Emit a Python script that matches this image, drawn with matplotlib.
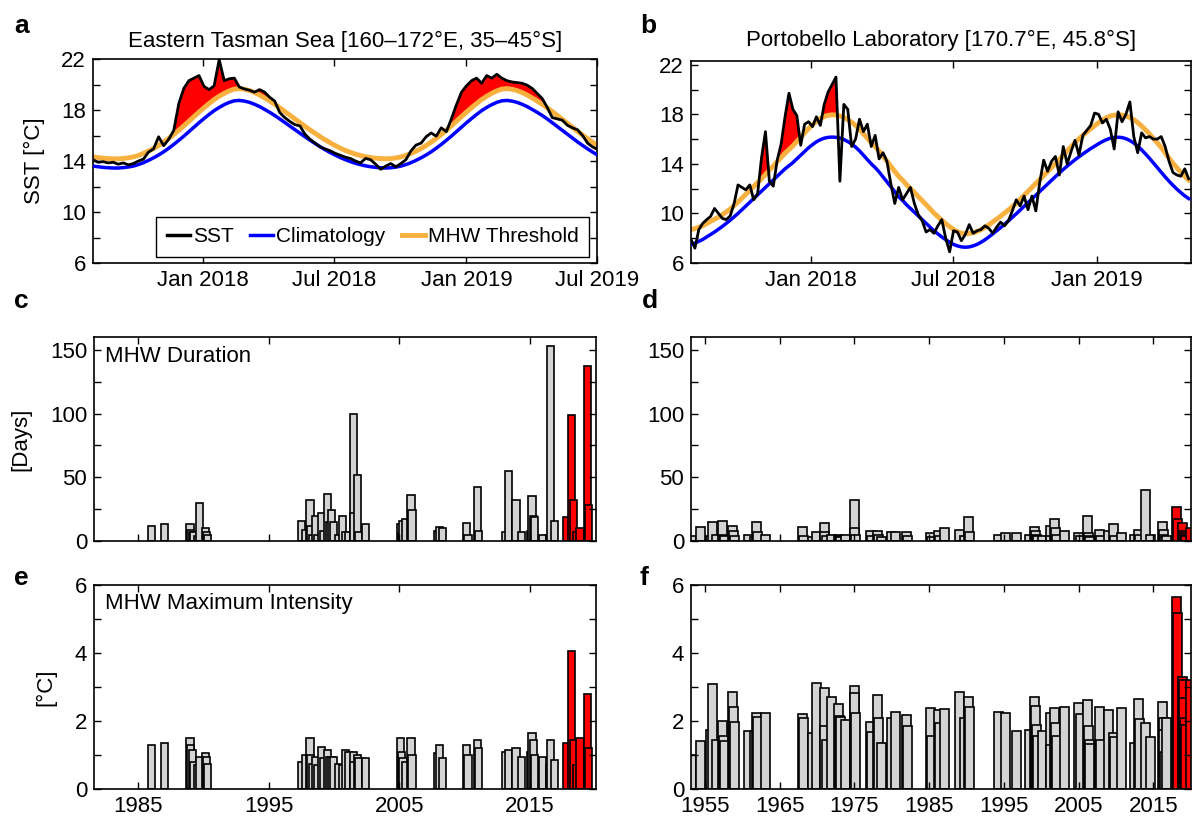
import numpy as np
import pandas as pd
import matplotlib
matplotlib.use("Agg")
import matplotlib.pyplot as plt
from matplotlib.lines import Line2D

plt.rcParams["font.family"] = ["Liberation Sans", "DejaVu Sans"]
plt.rcParams["axes.linewidth"] = 1.2

# a: Eastern Tasman Sea, weekly values from 1 Aug 2017 (degC)
sst_a = [14.1, 13.9, 13.95, 13.85, 13.9, 13.75, 13.85, 13.7, 13.8, 14.0,
         14.15, 14.7, 14.95, 15.9, 15.2, 15.7, 16.4, 18.5, 19.7, 20.3,
         20.5, 20.7, 19.85, 19.6, 19.9, 21.95, 20.3, 20.45, 20.5, 19.8,
         19.65, 19.55, 19.4, 19.6, 19.4, 19.0, 18.7, 17.8, 17.4, 17.1,
         16.85, 16.75, 16.1, 15.7, 15.4, 15.1, 14.95, 14.8, 14.6, 14.45,
         14.3, 14.2, 14.0, 13.85, 14.2, 14.1, 13.75, 13.35, 13.6, 13.8,
         13.55, 13.8, 14.1, 14.8, 15.25, 15.4, 15.9, 16.2, 15.95, 16.6,
         16.3, 17.3, 18.4, 19.4, 19.9, 20.3, 20.5, 20.1, 20.7, 20.5,
         20.8, 20.5, 20.3, 20.2, 20.15, 20.1, 19.95, 19.7, 19.3, 18.9,
         18.2, 17.4, 17.3, 17.2, 16.8, 16.6, 16.45, 16.0, 15.4, 15.1,
         14.9]
clim_a = [13.6, 13.55, 13.5, 13.47, 13.45, 13.45, 13.48, 13.53, 13.6, 13.72,
          13.87, 14.05, 14.25, 14.47, 14.72, 15.0, 15.3, 15.62, 15.95, 16.3,
          16.65, 17.0, 17.33, 17.65, 17.95, 18.2, 18.42, 18.6, 18.72, 18.75,
          18.7, 18.6, 18.45, 18.27, 18.05, 17.82, 17.57, 17.3, 17.02, 16.74,
          16.46, 16.18, 15.9, 15.63, 15.37, 15.12, 14.88, 14.66, 14.46, 14.27,
          14.1, 13.95, 13.82, 13.71, 13.62, 13.55, 13.5, 13.47, 13.45, 13.47,
          13.52, 13.6, 13.72, 13.87, 14.05, 14.25, 14.47, 14.72, 15.0, 15.3,
          15.62, 15.95, 16.3, 16.65, 17.0, 17.33, 17.65, 17.95, 18.2, 18.42,
          18.6, 18.72, 18.75, 18.7, 18.6, 18.45, 18.27, 18.05, 17.82, 17.57,
          17.3, 17.0, 16.7, 16.4, 16.1, 15.8, 15.5, 15.22, 14.95, 14.7,
          14.45]
thresh_a = [14.32, 14.27, 14.22, 14.19, 14.17, 14.17, 14.2, 14.25, 14.32, 14.44,
            14.6, 14.78, 14.98, 15.22, 15.48, 15.77, 16.08, 16.41, 16.76, 17.12,
            17.48, 17.84, 18.18, 18.51, 18.82, 19.08, 19.31, 19.5, 19.64, 19.68,
            19.63, 19.53, 19.37, 19.18, 18.95, 18.71, 18.45, 18.17, 17.88, 17.59,
            17.3, 17.01, 16.72, 16.44, 16.17, 15.91, 15.66, 15.43, 15.21, 15.01,
            14.83, 14.68, 14.54, 14.43, 14.34, 14.27, 14.22, 14.19, 14.17, 14.19,
            14.24, 14.32, 14.44, 14.6, 14.78, 14.98, 15.22, 15.48, 15.77, 16.08,
            16.41, 16.76, 17.12, 17.48, 17.84, 18.18, 18.51, 18.82, 19.08, 19.31,
            19.5, 19.64, 19.68, 19.63, 19.53, 19.37, 19.18, 18.95, 18.71, 18.45,
            18.17, 17.87, 17.57, 17.26, 16.95, 16.64, 16.33, 16.03, 15.74, 15.47,
            15.2]
mhw_a = [("2017-11-14", "2018-04-12"), ("2018-12-04", "2019-05-01")]

# b: Portobello Laboratory, 5-daily values from 1 Aug 2017 (degC)
sst_b = [7.9, 7.2, 8.7, 9.2, 9.5, 9.76, 10.4, 10.0, 9.6, 9.5,
         9.8, 10.8, 12.3, 12.1, 11.9, 12.3, 11.1, 11.6, 14.5, 16.6,
         12.6, 12.2, 14.3, 15.6, 17.8, 19.7, 18.4, 17.9, 15.5, 17.2,
         17.4, 17.0, 17.8, 17.1, 18.8, 19.8, 20.4, 21.0, 12.6, 18.8,
         18.4, 15.4, 16.0, 17.6, 16.6, 17.2, 15.4, 16.3, 14.4, 14.9,
         14.2, 12.4, 10.8, 12.1, 11.1, 11.6, 12.1, 10.8, 9.9, 9.4,
         8.5, 8.7, 8.4, 9.0, 9.5, 8.0, 6.9, 8.6, 8.5, 7.8,
         8.3, 9.1, 8.4, 8.6, 8.7, 9.0, 8.8, 8.4, 8.9, 9.3,
         9.0, 9.4, 10.2, 11.1, 10.6, 11.4, 10.3, 11.4, 10.2, 12.5,
         14.3, 13.4, 14.2, 14.6, 13.1, 15.4, 14.0, 15.0, 15.9, 14.7,
         16.3, 16.7, 17.1, 18.1, 18.0, 17.3, 17.6, 16.8, 15.2, 18.2,
         17.4, 18.0, 19.0, 16.2, 14.9, 16.5, 16.1, 16.2, 16.0, 16.0,
         16.2, 15.4, 14.2, 13.3, 13.1, 13.0, 13.6, 12.8]
clim_b = [7.5, 7.6, 7.75, 7.9, 8.1, 8.3, 8.5, 8.72, 8.95, 9.2,
          9.45, 9.72, 10.0, 10.3, 10.6, 10.9, 11.2, 11.5, 11.8, 12.1,
          12.4, 12.7, 13.0, 13.3, 13.6, 13.85, 14.1, 14.4, 14.7, 15.0,
          15.3, 15.55, 15.78, 15.95, 16.07, 16.14, 16.16, 16.14, 16.08, 15.97,
          15.8, 15.6, 15.35, 15.05, 14.7, 14.35, 14.0, 13.7, 13.35, 12.95,
          12.55, 12.15, 11.75, 11.35, 11.05, 10.7, 10.4, 10.1, 9.8, 9.5,
          9.2, 8.9, 8.6, 8.35, 8.1, 7.88, 7.68, 7.5, 7.38, 7.3,
          7.27, 7.3, 7.38, 7.5, 7.67, 7.87, 8.1, 8.35, 8.6, 8.85,
          9.12, 9.4, 9.68, 9.97, 10.27, 10.57, 10.87, 11.17, 11.47, 11.77,
          12.07, 12.37, 12.67, 12.97, 13.27, 13.55, 13.82, 14.08, 14.33, 14.57,
          14.8, 15.02, 15.23, 15.43, 15.62, 15.8, 15.95, 16.07, 16.13, 16.15,
          16.12, 16.03, 15.88, 15.68, 15.43, 15.13, 14.8, 14.45, 14.08, 13.7,
          13.32, 12.95, 12.6, 12.27, 11.96, 11.68, 11.42, 11.2]
thresh_b = [8.7, 8.77, 8.89, 9.01, 9.18, 9.35, 9.52, 9.7, 9.9, 10.12,
            10.35, 10.63, 10.92, 11.24, 11.55, 11.86, 12.17, 12.49, 12.8, 13.14,
            13.48, 13.82, 14.17, 14.52, 14.86, 15.15, 15.45, 15.8, 16.15, 16.5,
            16.85, 17.15, 17.43, 17.65, 17.82, 17.92, 17.96, 17.94, 17.87, 17.75,
            17.57, 17.36, 17.1, 16.79, 16.43, 16.07, 15.71, 15.4, 15.04, 14.63,
            14.22, 13.81, 13.4, 12.99, 12.68, 12.32, 12.01, 11.7, 11.37, 11.04,
            10.71, 10.37, 10.03, 9.74, 9.45, 9.18, 8.93, 8.7, 8.53, 8.4,
            8.37, 8.38, 8.44, 8.54, 8.69, 8.87, 9.08, 9.31, 9.54, 9.77,
            10.02, 10.28, 10.54, 10.82, 11.14, 11.46, 11.78, 12.1, 12.42, 12.74,
            13.06, 13.38, 13.7, 14.02, 14.34, 14.7, 15.05, 15.38, 15.7, 16.01,
            16.3, 16.57, 16.83, 17.08, 17.32, 17.54, 17.72, 17.86, 17.93, 17.95,
            17.94, 17.87, 17.74, 17.56, 17.33, 17.05, 16.74, 16.41, 16.06, 15.7,
            15.32, 14.88, 14.46, 14.06, 13.68, 13.33, 13.0, 12.7]
mhw_b = [("2017-10-25", "2017-11-09"), ("2017-11-24", "2017-12-20"),
         ("2018-01-07", "2018-02-07")]

# c/e: Tasman Sea MHW events (start year, duration [days], max intensity [degC])
tas_start = [1985.75, 1986.75, 1988.69, 1988.75, 1988.88, 1989.0, 1989.25, 1989.44, 1989.9, 1989.97, 1990.06,
             1997.25, 1997.56, 1997.88, 1997.94, 1998.1, 1998.34, 1998.5, 1998.75, 1998.97, 1999.22, 1999.38,
             1999.53, 1999.69, 2000.06, 2000.38, 2000.63, 2000.84, 2001.22, 2001.25, 2001.53, 2001.63, 2002.16,
             2004.84, 2004.9, 2005.0, 2005.22, 2005.63, 2005.69,
             2007.63, 2007.81, 2008.03,
             2009.9, 2010.0, 2010.69, 2010.78,
             2012.88, 2013.09, 2013.66, 2014.06, 2014.75, 2014.9, 2015.0, 2015.06, 2015.69, 2016.25, 2016.31, 2016.63,
             2017.56, 2017.94, 2018.09, 2018.34, 2018.56, 2019.13, 2019.19]
tas_dur = [12, 13, 13, 9, 7, 7, 4, 30, 10, 7, 5,
           16, 9, 32, 12, 5, 20, 5, 22, 8, 37, 15, 24, 15, 5, 20, 7, 7, 100, 22, 52, 7, 13,
           13, 6, 16, 17, 36, 24,
           8, 11, 10,
           14, 5, 42, 8,
           7, 55, 32, 7, 8, 35, 20, 19, 5, 5, 153, 16,
           19, 99, 32, 7, 10, 137, 28]
tas_imax = [1.3, 1.35, 1.5, 1.3, 1.15, 0.8, 0.7, 0.95, 1.05, 0.95, 0.75,
            0.8, 1.0, 1.5, 1.0, 0.75, 0.95, 0.7, 1.25, 0.9, 1.15, 0.95, 0.95, 0.95, 0.75, 0.7, 1.15, 1.1, 1.1,
            0.8, 1.0, 0.9, 0.9,
            1.5, 1.1, 0.9, 0.8, 1.5, 1.0,
            1.05, 1.3, 0.9,
            1.3, 1.0, 1.45, 1.2,
            1.1, 1.15, 1.2, 0.95, 1.1, 1.65, 1.45, 1.0, 0.95, 0.7, 1.45, 0.85,
            1.35, 4.05, 1.45, 0.7, 1.5, 2.8, 1.2]

# d/f: Portobello MHW events
pob_start = [1952.6, 1953.8, 1955.13, 1955.45, 1955.89, 1956.78, 1956.9, 1957.0, 1958.12, 1958.2, 1958.3,
             1960.21, 1961.0, 1961.24, 1961.37, 1962.48,
             1967.47, 1967.6, 1968.8, 1969.37, 1970.37, 1970.45, 1970.6, 1971.35, 1972.24, 1972.37, 1972.6,
             1973.26, 1974.38, 1974.47, 1974.55,
             1976.6, 1976.7, 1977.5, 1977.6, 1978.07, 1979.36, 1979.94, 1981.37, 1981.5,
             1984.53, 1984.7, 1985.6, 1985.73, 1986.49, 1988.5, 1989.17, 1989.61, 1989.75,
             1993.62, 1994.64, 1996.1, 1997.76, 1998.5, 1998.65, 1998.8, 1998.9, 1999.55, 2000.57, 2000.66,
             2001.19, 2001.3, 2001.45, 2002.53,
             2004.44, 2004.6, 2005.56, 2005.7, 2005.8, 2005.9, 2007.24, 2007.35, 2008.45, 2009.12, 2009.25,
             2010.1, 2011.88, 2012.46, 2012.6, 2013.35, 2014.02,
             2015.58, 2015.7, 2015.8, 2015.94, 2016.2,
             2017.5, 2017.58, 2018.25, 2018.4, 2018.47, 2018.6, 2018.7, 2019.35]
pob_dur = [4, 11, 4, 15, 5, 16, 5, 4, 12, 8, 4,
           5, 3, 15, 7, 5,
           11, 4, 3, 7, 14, 7, 4, 5, 5, 4, 3, 5, 32, 10, 5,
           8, 4, 8, 5, 3, 7, 7, 7, 4,
           6, 3, 8, 4, 10, 9, 4, 19, 7,
           5, 6, 6, 5, 11, 8, 5, 4, 4, 12, 4, 17, 10, 5, 8,
           6, 4, 20, 6, 4, 3, 9, 4, 8, 13, 4, 6, 5, 9, 5, 40, 5,
           15, 9, 5, 3, 4,
           27, 17, 14, 8, 6, 5, 4, 10]
pob_imax = [1.0, 1.41, 1.75, 3.1, 1.43, 2.0, 1.57, 1.4, 2.85, 2.4, 1.98,
            1.72, 1.7, 2.25, 2.13, 2.25,
            2.22, 2.08, 1.65, 3.13, 2.98, 1.85, 1.45, 2.7, 2.5, 2.15, 2.13, 2.03, 3.03, 2.81, 2.25,
            1.96, 1.67, 2.76, 2.1, 1.34, 2.1, 2.27, 2.18, 1.86,
            2.37, 1.56, 2.32, 1.93, 2.34, 2.86, 2.1, 2.72, 2.42,
            2.26, 2.25, 1.72, 1.74, 2.72, 2.44, 1.89, 1.57, 1.7, 2.25, 1.3, 2.37, 1.93, 1.57, 2.42,
            2.54, 2.2, 2.62, 1.86, 1.44, 1.32, 2.42, 1.44, 2.32, 1.64, 1.54, 2.37, 1.34, 2.65, 2.05, 1.95, 1.54,
            2.55, 2.08, 1.74, 1.1, 2.1,
            5.64, 5.19, 3.28, 3.2, 2.67, 2.1, 1.88, 3.2]

RECENT = 2017.4   # events of the 2017/18 and 2018/19 summers are drawn red
THR_C = "#f8b03e"
FS = 16


def ts_panel(ax, t, sst, clim, thr, events):
    sst, clim, thr = np.asarray(sst), np.asarray(clim), np.asarray(thr)
    inside = np.zeros(len(t), bool)
    for s, e in events:
        inside |= np.asarray((t >= pd.Timestamp(s)) & (t <= pd.Timestamp(e)))
    ax.fill_between(t, thr, sst, where=inside & (sst > thr), interpolate=True,
                    color="red", lw=0, zorder=1)
    ax.plot(t, thr, color=THR_C, lw=3.5, zorder=2)
    ax.plot(t, clim, color="#0000ff", lw=2.5, zorder=3)
    ax.plot(t, sst, color="k", lw=2.0, zorder=4)
    ax.set_yticks(np.arange(6, 23, 2))
    ax.set_yticklabels([str(v) if v % 4 == 2 else "" for v in range(6, 23, 2)])


def event_bars(ax, start, val, width):
    cols = ["red" if s >= RECENT else "#d4d4d4" for s in start]
    ax.bar(start, val, width=width, align="edge", color=cols, edgecolor="k", linewidth=1.2)


def style(ax):
    ax.tick_params(direction="in", top=True, right=True, length=5, width=1,
                   labelsize=FS, pad=5)


W, H = 1195, 824
fig = plt.figure(figsize=(W / 100, H / 100), dpi=100)


def box(l, t, r, b):
    return fig.add_axes([l / W, 1 - b / H, (r - l) / W, (b - t) / H])


ax_a = box(93, 59, 597, 263)
ax_b = box(691, 61, 1191, 263)
ax_c = box(94, 337, 596, 541)
ax_d = box(691, 337, 1191, 541)
ax_e = box(94, 585, 596, 789)
ax_f = box(691, 585, 1191, 789)

# time series panels
t_a = pd.date_range("2017-08-01", periods=len(sst_a), freq="7D")
t_b = pd.date_range("2017-08-01", periods=len(sst_b), freq="5D")
ts_panel(ax_a, t_a, sst_a, clim_a, thresh_a, mhw_a)
ts_panel(ax_b, t_b, sst_b, clim_b, thresh_b, mhw_b)

ax_a.set_xlim(pd.Timestamp("2017-08-01"), pd.Timestamp("2019-07-01"))
ax_a.set_ylim(6, 22)
ax_a.set_xticks([pd.Timestamp(d) for d in ["2018-01-01", "2018-07-01", "2019-01-01", "2019-07-01"]])
ax_a.set_xticklabels(["Jan 2018", "Jul 2018", "Jan 2019", "Jul 2019"])
ax_a.set_title("Eastern Tasman Sea [160\u2013172\u00b0E, 35\u201345\u00b0S]", fontsize=FS, pad=9)
ax_a.set_ylabel("SST [\u00b0C]", fontsize=FS)
ax_a.yaxis.set_label_coords(-0.095, 0.5)

ax_b.set_xlim(pd.Timestamp("2017-08-01"), pd.Timestamp("2019-05-01"))
ax_b.set_ylim(6, 22.3)
ax_b.set_xticks([pd.Timestamp(d) for d in ["2018-01-01", "2018-07-01", "2019-01-01"]])
ax_b.set_xticklabels(["Jan 2018", "Jul 2018", "Jan 2019"])
ax_b.set_title("Portobello Laboratory [170.7\u00b0E, 45.8\u00b0S]", fontsize=FS, pad=11)

handles = [Line2D([], [], color="k", lw=2.5), Line2D([], [], color="#0000ff", lw=2.5),
           Line2D([], [], color=THR_C, lw=3.5)]
leg = ax_a.legend(handles, ["SST", "Climatology", "MHW Threshold"], ncol=3, fontsize=15,
                  loc="lower right", bbox_to_anchor=(0.985, 0.03), borderaxespad=0,
                  handlelength=1.1, handletextpad=0.15, columnspacing=0.8, borderpad=0.5,
                  fancybox=False, framealpha=1, edgecolor="k")
leg.get_frame().set_linewidth(1.0)

# event bar panels
event_bars(ax_c, tas_start, tas_dur, 0.56)
event_bars(ax_e, tas_start, tas_imax, 0.56)
event_bars(ax_d, pob_start, pob_dur, 1.2)
event_bars(ax_f, pob_start, pob_imax, 1.2)

for ax in (ax_c, ax_e):
    ax.set_xlim(1981.63, 2020.07)
    ax.set_xticks([1985, 1995, 2005, 2015])
for ax in (ax_d, ax_f):
    ax.set_xlim(1953.13, 2020.04)
    ax.set_xticks(range(1955, 2016, 10))
for ax in (ax_c, ax_d):
    ax.set_ylim(0, 160)
    ax.set_yticks(range(0, 151, 25))
    ax.set_yticklabels([str(v) if v % 50 == 0 else "" for v in range(0, 151, 25)])
    ax.set_xticklabels([])
for ax in (ax_e, ax_f):
    ax.set_ylim(0, 6)
    ax.set_yticks(range(0, 7))
    ax.set_yticklabels([str(v) if v % 2 == 0 else "" for v in range(0, 7)])

ax_c.set_ylabel("[Days]", fontsize=FS)
ax_c.yaxis.set_label_coords(-0.125, 0.5)
ax_e.set_ylabel("[\u00b0C]", fontsize=FS)
ax_e.yaxis.set_label_coords(-0.075, 0.5)
ax_c.text(0.022, 0.955, "MHW Duration", transform=ax_c.transAxes, fontsize=FS, va="top")
ax_e.text(0.022, 0.96, "MHW Maximum Intensity", transform=ax_e.transAxes, fontsize=FS, va="top")

for ax in (ax_a, ax_b, ax_c, ax_d, ax_e, ax_f):
    style(ax)

for letter, x, y in [("a", 14, 33), ("b", 640, 33), ("c", 14, 308),
                     ("d", 642, 308), ("e", 14, 585), ("f", 640, 585)]:
    fig.text(x / W, 1 - y / H, letter, fontsize=19, fontweight="bold", va="baseline")

fig.savefig("out.png", dpi=100)
